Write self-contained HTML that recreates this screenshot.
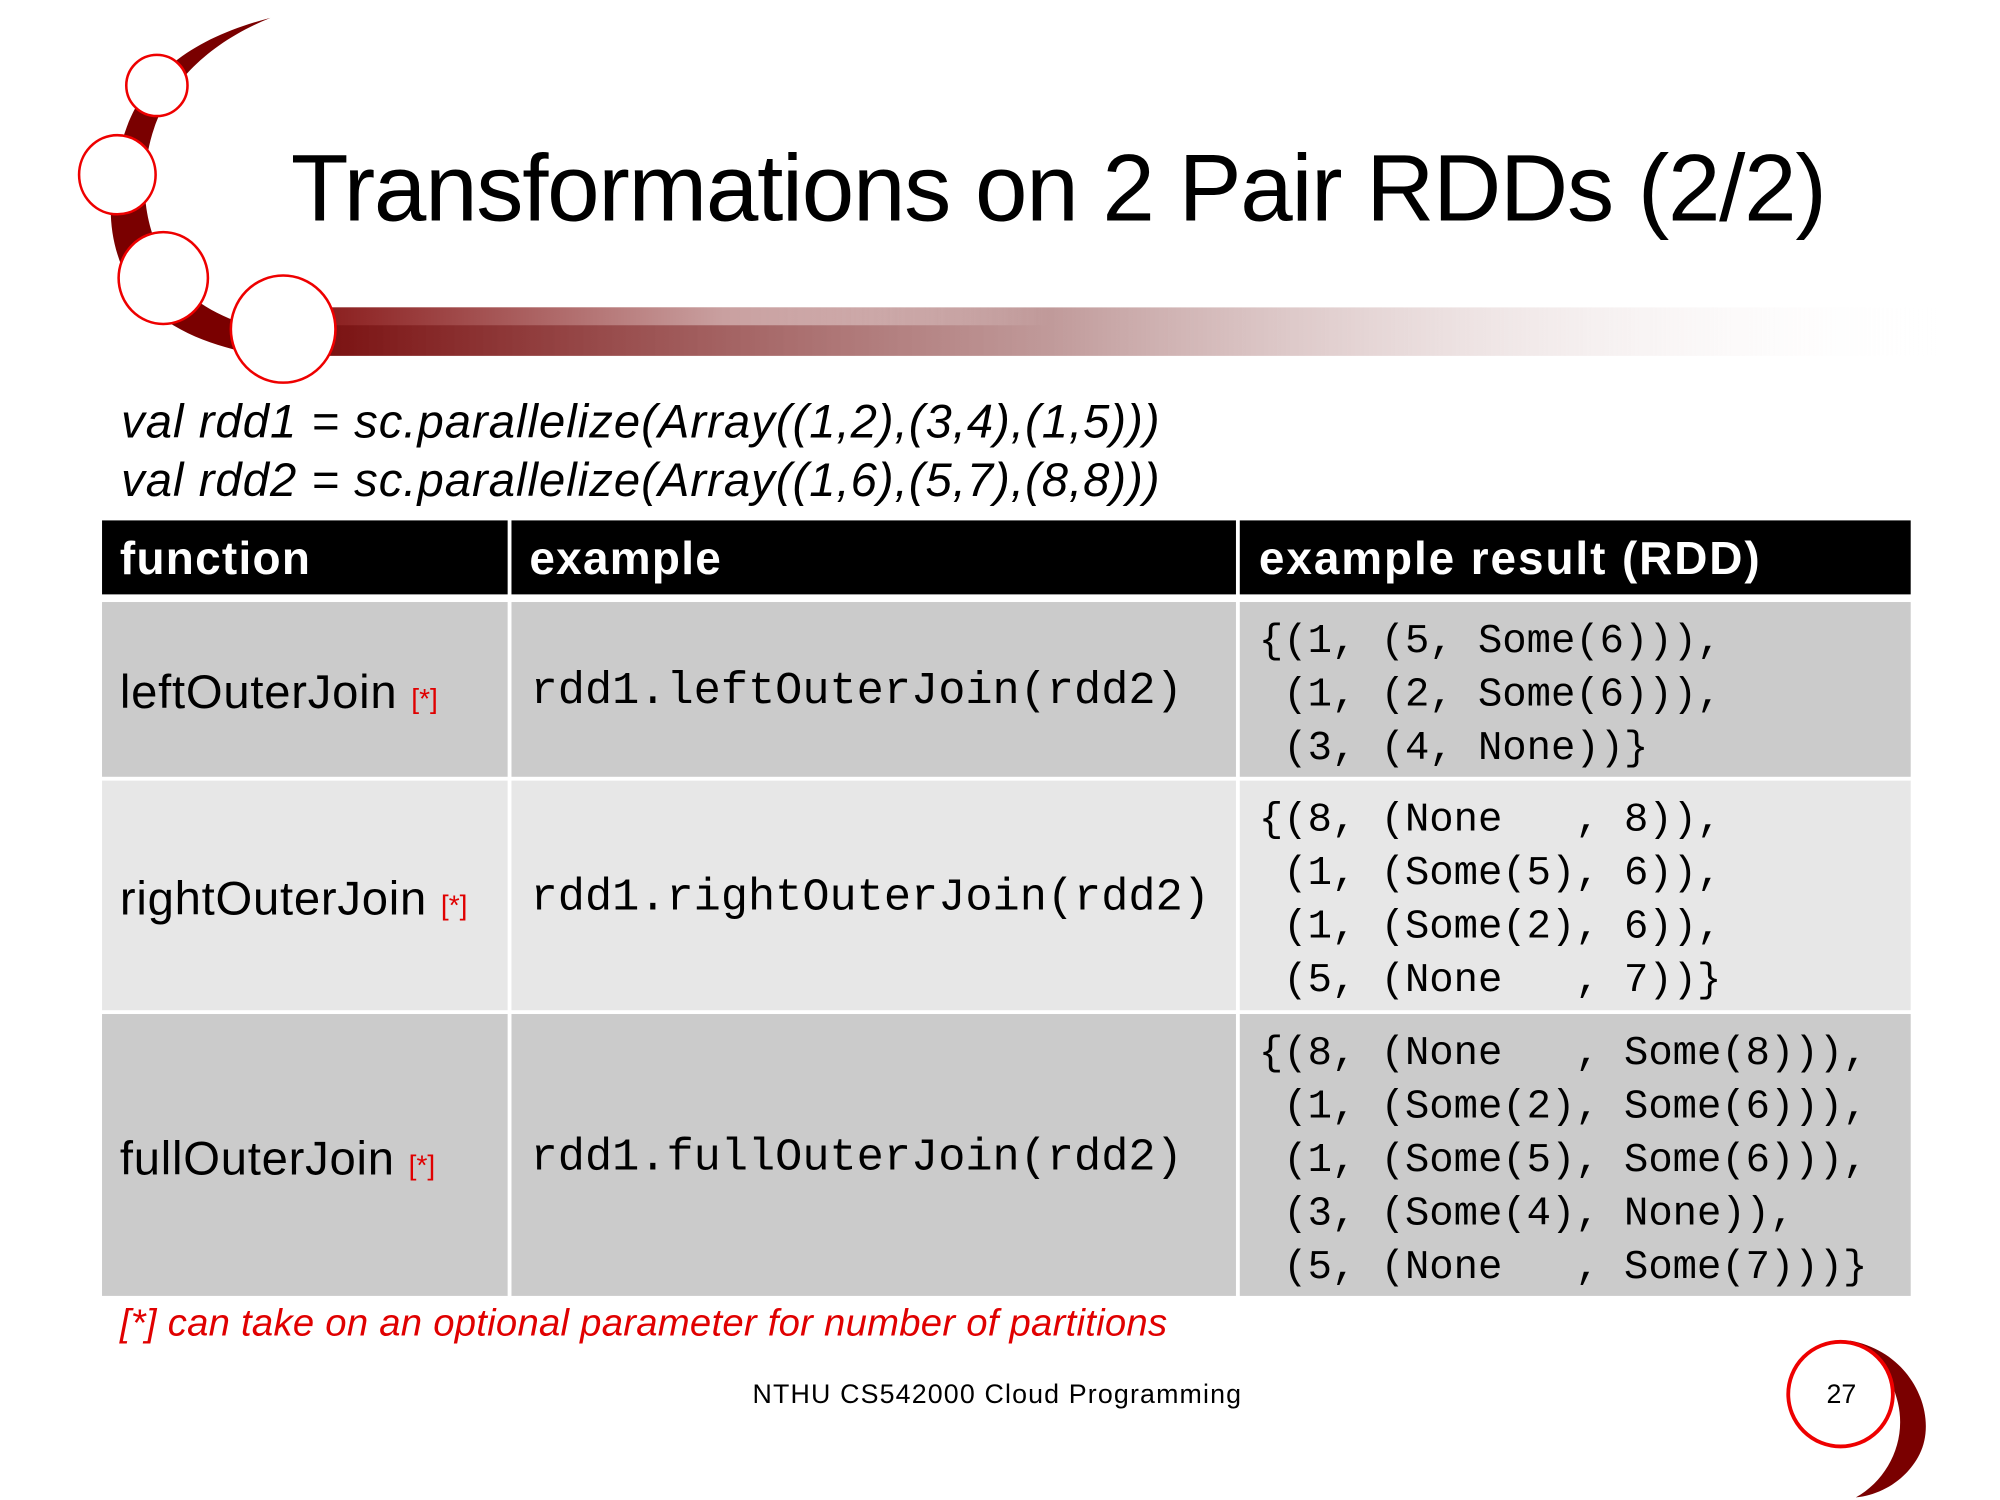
<!DOCTYPE html>
<html><head><meta charset="utf-8"><style>
html,body{margin:0;padding:0;background:#fff;overflow:hidden}
body{width:2000px;height:1500px;position:relative}
#s{position:absolute;left:0;top:0;width:1568px;height:1176px;transform-origin:0 0;transform:scale(1.2755,1.2755);font-family:"Liberation Sans",sans-serif}
.a{position:absolute;white-space:pre;line-height:1}
.mono{font-family:"Liberation Mono","DejaVu Sans Mono",monospace}
.cell{position:absolute}
.r{color:#e00000;font-size:22px;letter-spacing:0}
</style></head><body><div id="s">
<svg class="a" style="left:0;top:0" width="1568" height="1176">
<defs><linearGradient id="g" x1="0" x2="1"><stop offset="0" stop-color="#7a1010"/><stop offset="0.45" stop-color="#b08080" stop-opacity="0.8"/><stop offset="1" stop-color="#fff" stop-opacity="0"/></linearGradient>
<linearGradient id="g2" x1="0" x2="1"><stop offset="0" stop-color="#8a1c1c"/><stop offset="0.25" stop-color="#c9a0a0"/><stop offset="0.45" stop-color="#fff" stop-opacity="0"/></linearGradient></defs>
<rect x="250" y="241" width="1270" height="38" fill="url(#g)"/>
<rect x="250" y="241" width="1270" height="14" fill="url(#g2)"/>
<path d="M212,14 C150,30 110,60 96,110 C80,160 85,200 110,235 C140,265 180,275 215,280 L222,262 C185,255 150,240 135,215 C115,185 108,150 118,110 C128,70 160,35 212,14 Z" fill="#7a0000"/>
<circle cx="123" cy="67" r="24" fill="#fff" stroke="#e00" stroke-width="2"/>
<ellipse cx="92" cy="137" rx="30" ry="31" fill="#fff" stroke="#e00" stroke-width="2"/>
<ellipse cx="128" cy="218" rx="35" ry="36" fill="#fff" stroke="#e00" stroke-width="2"/>
<ellipse cx="222" cy="258" rx="41" ry="42" fill="#fff" stroke="#e00" stroke-width="2"/>
<path d="M1450,1051 C1500,1060 1520,1110 1505,1140 C1495,1160 1475,1172 1455,1174 C1480,1160 1495,1130 1488,1100 C1482,1075 1470,1060 1450,1051 Z" fill="#7a0000"/>
<circle cx="1443" cy="1093" r="41" fill="#fff" stroke="#e00" stroke-width="3"/>
</svg>
<div class="a" style="left:228px;top:111px;font-size:74px;letter-spacing:-1px">Transformations on 2 Pair RDDs (2/2)</div>
<div class="a" style="left:95px;top:312px;font-size:37px;font-style:italic;letter-spacing:0.8px">val rdd1 = sc.parallelize(Array((1,2),(3,4),(1,5)))</div>
<div class="a" style="left:95px;top:358px;font-size:37px;font-style:italic;letter-spacing:0.8px">val rdd2 = sc.parallelize(Array((1,6),(5,7),(8,8)))</div>
<div class="cell" style="left:80px;top:408px;width:318px;height:58px;background:#000"></div>
<div class="cell" style="left:401px;top:408px;width:568px;height:58px;background:#000"></div>
<div class="cell" style="left:972px;top:408px;width:526px;height:58px;background:#000"></div>
<div class="cell" style="left:80px;top:472px;width:318px;height:137px;background:#cbcbcb"></div>
<div class="cell" style="left:401px;top:472px;width:568px;height:137px;background:#cbcbcb"></div>
<div class="cell" style="left:972px;top:472px;width:526px;height:137px;background:#cbcbcb"></div>
<div class="cell" style="left:80px;top:612px;width:318px;height:180px;background:#e7e7e7"></div>
<div class="cell" style="left:401px;top:612px;width:568px;height:180px;background:#e7e7e7"></div>
<div class="cell" style="left:972px;top:612px;width:526px;height:180px;background:#e7e7e7"></div>
<div class="cell" style="left:80px;top:795px;width:318px;height:221px;background:#cbcbcb"></div>
<div class="cell" style="left:401px;top:795px;width:568px;height:221px;background:#cbcbcb"></div>
<div class="cell" style="left:972px;top:795px;width:526px;height:221px;background:#cbcbcb"></div>
<div class="a" style="left:94px;top:420px;font-size:36px;font-weight:bold;color:#fff;letter-spacing:1px">function</div>
<div class="a" style="left:415px;top:420px;font-size:36px;font-weight:bold;color:#fff;letter-spacing:1px">example</div>
<div class="a" style="left:987px;top:420px;font-size:36px;font-weight:bold;color:#fff;letter-spacing:1.5px">example result (RDD)</div>
<div class="a" style="left:94px;top:524px;font-size:37px;letter-spacing:0.6px">leftOuterJoin <span class="r">[*]</span></div>
<div class="a" style="left:94px;top:686px;font-size:37px;letter-spacing:0.6px">rightOuterJoin <span class="r">[*]</span></div>
<div class="a" style="left:94px;top:890px;font-size:37px;letter-spacing:0.6px">fullOuterJoin <span class="r">[*]</span></div>
<div class="a mono" style="left:416px;top:524px;font-size:35.5px">rdd1.leftOuterJoin(rdd2)</div>
<div class="a mono" style="left:416px;top:686px;font-size:35.5px">rdd1.rightOuterJoin(rdd2)</div>
<div class="a mono" style="left:416px;top:890px;font-size:35.5px">rdd1.fullOuterJoin(rdd2)</div>
<div class="a mono" style="left:987px;top:482px;font-size:31.8px;line-height:42px">{(1, (5, Some(6))),
 (1, (2, Some(6))),
 (3, (4, None))}</div>
<div class="a mono" style="left:987px;top:622px;font-size:31.8px;line-height:42px">{(8, (None   , 8)),
 (1, (Some(5), 6)),
 (1, (Some(2), 6)),
 (5, (None   , 7))}</div>
<div class="a mono" style="left:987px;top:805px;font-size:31.8px;line-height:42px">{(8, (None   , Some(8))),
 (1, (Some(2), Some(6))),
 (1, (Some(5), Some(6))),
 (3, (Some(4), None)),
 (5, (None   , Some(7)))}</div>
<div class="a" style="left:94px;top:1023px;font-size:30px;font-style:italic;color:#e00000;letter-spacing:0.2px">[*] can take on an optional parameter for number of partitions</div>
<div class="a" style="left:590px;top:1083px;font-size:21px;letter-spacing:0.9px">NTHU CS542000 Cloud Programming</div>
<div class="a" style="left:1432px;top:1083px;font-size:21px">27</div>
</div></body></html>
